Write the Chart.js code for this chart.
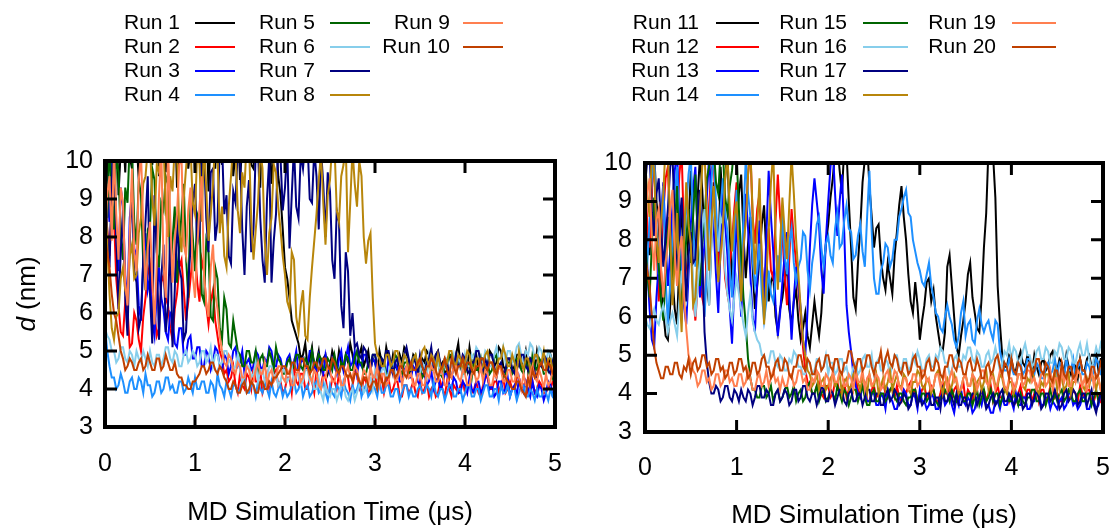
<!DOCTYPE html>
<html>
<head>
<meta charset="utf-8">
<script src="https://cdn.jsdelivr.net/npm/chart.js@4.4.1/dist/chart.umd.min.js"></script>
<style>
  body { margin: 0; background: #fff; }
  .panel { position: absolute; top: 0; height: 532px; }
</style>
</head>
<body>
<div class="panel" style="left:0;width:580px"><canvas id="leftChart" width="580" height="532"></canvas></div>
<div class="panel" style="left:558px;width:558px"><canvas id="rightChart" width="558" height="532"></canvas></div>
<script>
// time axis (microseconds), one sample every 0.025 us
const timeUs = [
  0, 0.025, 0.05, 0.075, 0.1, 0.125, 0.15, 0.175, 0.2, 0.225, 0.25, 0.275, 0.3, 0.325, 0.35, 0.375, 0.4, 0.425, 0.45, 0.475,
  0.5, 0.525, 0.55, 0.575, 0.6, 0.625, 0.65, 0.675, 0.7, 0.725, 0.75, 0.775, 0.8, 0.825, 0.85, 0.875, 0.9, 0.925, 0.95, 0.975,
  1, 1.025, 1.05, 1.075, 1.1, 1.125, 1.15, 1.175, 1.2, 1.225, 1.25, 1.275, 1.3, 1.325, 1.35, 1.375, 1.4, 1.425, 1.45, 1.475,
  1.5, 1.525, 1.55, 1.575, 1.6, 1.625, 1.65, 1.675, 1.7, 1.725, 1.75, 1.775, 1.8, 1.825, 1.85, 1.875, 1.9, 1.925, 1.95, 1.975,
  2, 2.025, 2.05, 2.075, 2.1, 2.125, 2.15, 2.175, 2.2, 2.225, 2.25, 2.275, 2.3, 2.325, 2.35, 2.375, 2.4, 2.425, 2.45, 2.475,
  2.5, 2.525, 2.55, 2.575, 2.6, 2.625, 2.65, 2.675, 2.7, 2.725, 2.75, 2.775, 2.8, 2.825, 2.85, 2.875, 2.9, 2.925, 2.95, 2.975,
  3, 3.025, 3.05, 3.075, 3.1, 3.125, 3.15, 3.175, 3.2, 3.225, 3.25, 3.275, 3.3, 3.325, 3.35, 3.375, 3.4, 3.425, 3.45, 3.475,
  3.5, 3.525, 3.55, 3.575, 3.6, 3.625, 3.65, 3.675, 3.7, 3.725, 3.75, 3.775, 3.8, 3.825, 3.85, 3.875, 3.9, 3.925, 3.95, 3.975,
  4, 4.025, 4.05, 4.075, 4.1, 4.125, 4.15, 4.175, 4.2, 4.225, 4.25, 4.275, 4.3, 4.325, 4.35, 4.375, 4.4, 4.425, 4.45, 4.475,
  4.5, 4.525, 4.55, 4.575, 4.6, 4.625, 4.65, 4.675, 4.7, 4.725, 4.75, 4.775, 4.8, 4.825, 4.85, 4.875, 4.9, 4.925, 4.95, 4.975,
  5
];

// distance d (nm), left panel, one row per 0.5 us
const run1 = [
  10.2, 9.4, 11.3, 10.0, 10.5, 11.6, 9.1, 10.3, 10.8, 9.7, 11.4, 10.1, 9.8, 11.5, 10.6, 9.5, 11.2, 10.7, 10.1, 11.4,
  11.5, 9.9, 10.4, 11.2, 9.6, 10.5, 10.9, 9.7, 11.3, 10.6, 10.0, 11.5, 9.3, 10.2, 10.7, 11.6, 11.4, 9.8, 10.3, 11.1,
  9.7, 10.9, 11.1, 9.6, 10.4, 11.5, 9.2, 10.7, 10.6, 9.8, 11.3, 10.4, 9.9, 11.6, 10.8, 10.0, 11.5, 9.6, 10.2, 11.3,
  9.5, 10.4, 10.9, 11.6, 11.2, 9.9, 9.8, 10.9, 10.5, 9.3, 11.4, 10.6, 10.0, 11.2, 9.4, 10.1, 10.7, 9.6, 9.1, 8.2,
  7.2, 6.9, 6.4, 5.8, 5.6, 5.4, 5.2, 4.8, 4.9, 5.2, 4.6, 4.8, 5.1, 4.5, 4.7, 5.0, 4.5, 4.8, 4.9, 4.4,
  4.6, 5.0, 4.8, 4.5, 5.0, 4.7, 4.5, 4.9, 4.7, 5.2, 4.9, 4.5, 4.6, 4.9, 5.1, 4.6, 4.8, 5.0, 4.5, 4.8,
  4.7, 4.4, 5.0, 4.7, 4.6, 5.1, 4.8, 4.5, 4.9, 4.6, 4.5, 4.9, 4.7, 5.1, 5.0, 4.6, 4.6, 4.9, 4.8, 4.5,
  4.4, 4.8, 4.7, 5.0, 4.9, 4.5, 4.6, 4.9, 5.0, 4.6, 4.7, 4.4, 4.5, 4.9, 4.8, 4.6, 4.9, 5.2, 4.6, 4.8,
  4.8, 4.5, 5.1, 4.7, 4.7, 4.9, 4.5, 4.8, 4.8, 4.4, 4.6, 5.0, 4.9, 4.6, 4.7, 5.1, 5.0, 4.6, 4.5, 4.8,
  4.8, 4.5, 4.6, 4.9, 4.9, 4.6, 4.7, 5.0, 4.5, 4.8, 4.8, 4.5, 5.0, 4.7, 4.6, 4.9, 4.7, 4.5, 4.9, 4.7,
  4.6
];
const run2 = [
  9.0, 8.2, 7.5, 8.8, 8.5, 6.9, 6.2, 5.5, 5.4, 6.3, 6.1, 5.1, 5.2, 6.0, 5.8, 5.3, 5.0, 5.9, 6.4, 7.0,
  7.3, 6.5, 6.0, 5.4, 5.6, 6.8, 7.0, 6.4, 6.2, 5.6, 5.3, 6.1, 6.5, 7.2, 7.4, 6.6, 5.8, 6.3, 6.9, 7.5,
  7.6, 6.8, 6.3, 7.4, 7.1, 6.2, 5.7, 6.3, 6.6, 5.8, 5.4, 5.0, 4.8, 4.4, 4.5, 4.2, 4.3, 4.6, 4.1, 3.9,
  4.4, 4.1, 4.0, 4.4, 4.3, 4.0, 4.6, 4.2, 4.2, 4.5, 3.9, 4.1, 4.4, 4.0, 4.1, 4.4, 4.5, 4.1, 4.2, 3.9,
  4.0, 4.3, 4.3, 3.9, 4.6, 4.2, 4.1, 4.4, 4.4, 4.0, 4.0, 4.3, 4.2, 3.9, 4.5, 4.1, 4.1, 4.4, 4.3, 3.9,
  3.9, 4.3, 4.2, 4.0, 4.4, 4.1, 4.0, 4.4, 4.3, 3.9, 4.1, 4.4, 4.5, 4.0, 3.9, 4.3, 4.2, 3.9, 4.0, 4.3,
  4.4, 4.0, 4.1, 4.3, 3.9, 4.2, 4.3, 3.9, 4.0, 4.2, 4.2, 3.8, 3.8, 4.1, 4.1, 3.9, 4.0, 4.2, 3.9, 3.8,
  4.2, 3.9, 4.0, 4.2, 3.8, 4.0, 4.1, 3.8, 3.9, 4.2, 4.0, 3.8, 4.2, 4.0, 3.8, 4.1, 4.0, 3.9, 4.1, 4.2,
  3.9, 4.1, 4.2, 3.9, 4.0, 4.2, 3.9, 3.8, 4.1, 4.3, 4.3, 4.0, 4.0, 4.2, 4.2, 3.9, 4.1, 4.3, 3.9, 4.0,
  4.2, 4.0, 4.0, 4.3, 4.3, 4.0, 4.1, 4.2, 3.9, 4.1, 4.2, 3.9, 4.0, 4.2, 4.1, 3.9, 3.9, 4.1, 4.0, 4.2,
  4.2
];
const run3 = [
  10.2, 9.1, 8.4, 10.5, 9.6, 8.0, 7.1, 9.3, 8.8, 7.0, 6.3, 8.5, 9.2, 7.7, 7.5, 6.2, 5.8, 7.4, 8.1, 6.6,
  6.9, 5.8, 5.4, 6.5, 7.2, 6.4, 6.1, 5.5, 5.3, 6.0, 5.9, 5.2, 5.1, 5.6, 5.6, 4.9, 4.9, 5.3, 5.4, 4.8,
  4.8, 5.1, 5.1, 4.6, 4.6, 5.0, 4.9, 4.5, 4.7, 5.1, 5.0, 4.6, 4.5, 4.9, 4.8, 4.4, 4.6, 5.0, 5.1, 4.6,
  4.7, 5.0, 4.4, 4.7, 4.8, 4.5, 4.6, 5.0, 4.9, 4.6, 4.5, 4.8, 4.7, 5.1, 5.0, 4.6, 4.6, 4.9, 4.8, 4.5,
  4.5, 4.8, 4.9, 4.6, 4.7, 5.0, 4.4, 4.7, 4.8, 4.5, 4.6, 5.0, 5.0, 4.6, 4.5, 4.9, 4.7, 4.4, 4.9, 4.6,
  4.4, 4.8, 4.6, 4.4, 4.8, 5.0, 4.5, 4.8, 5.1, 4.6, 4.7, 5.0, 4.4, 4.7, 4.6, 4.9, 4.9, 4.6, 4.5, 4.8,
  4.7, 4.4, 4.3, 4.6, 4.6, 4.3, 4.8, 4.5, 4.4, 4.7, 4.5, 4.2, 4.2, 4.5, 4.6, 4.3, 4.3, 4.6, 4.5, 4.2,
  4.1, 4.4, 4.4, 4.1, 4.2, 4.5, 4.0, 4.2, 4.3, 4.0, 4.1, 4.4, 4.4, 4.1, 4.0, 4.3, 4.2, 3.9, 3.9, 4.2,
  4.1, 3.9, 4.3, 4.0, 3.9, 4.2, 4.2, 3.9, 4.0, 4.3, 4.4, 4.0, 4.1, 3.8, 3.9, 4.2, 4.2, 3.9, 4.0, 4.3,
  3.8, 4.0, 4.1, 3.8, 4.3, 4.0, 3.9, 4.2, 4.0, 3.8, 4.2, 3.9, 3.8, 4.1, 4.0, 3.7, 3.9, 4.2, 4.1, 3.8,
  3.8
];
const run4 = [
  5.6, 5.0, 4.6, 4.3, 4.3, 4.0, 4.1, 4.4, 4.2, 3.9, 3.9, 4.2, 4.3, 4.0, 4.0, 4.3, 4.2, 3.9, 4.4, 4.1,
  4.1, 3.8, 3.9, 4.2, 4.2, 3.9, 4.0, 4.3, 4.3, 4.0, 4.1, 3.9, 3.9, 4.2, 4.2, 3.9, 4.0, 4.3, 4.1, 3.9,
  4.3, 4.0, 4.0, 4.2, 4.2, 3.9, 3.9, 4.2, 4.1, 3.8, 4.4, 4.1, 4.0, 3.8, 4.2, 4.0, 3.8, 4.1, 4.1, 3.9,
  4.0, 4.2, 4.3, 3.9, 3.9, 4.1, 4.1, 3.8, 4.2, 4.0, 3.9, 4.2, 4.0, 3.8, 4.2, 3.9, 3.8, 4.0, 4.1, 3.8,
  4.0, 3.8, 3.9, 4.1, 4.2, 3.9, 4.0, 4.2, 3.8, 4.0, 4.1, 3.8, 3.9, 4.1, 4.2, 3.9, 4.0, 4.2, 3.9, 3.7,
  4.1, 3.9, 3.8, 4.1, 4.0, 3.8, 4.2, 4.0, 3.9, 3.7, 4.1, 3.9, 4.0, 4.2, 3.8, 4.0, 4.1, 3.8, 3.9, 4.1,
  4.0, 3.8, 4.2, 3.9, 3.9, 4.1, 4.1, 3.8, 3.8, 4.0, 4.0, 3.7, 3.9, 4.1, 4.1, 3.8, 4.0, 3.8, 3.8, 4.0,
  4.1, 3.9, 3.9, 4.1, 4.0, 3.8, 4.2, 3.9, 3.8, 4.0, 4.0, 3.7, 3.9, 4.1, 4.1, 3.8, 3.8, 4.0, 4.0, 3.7,
  3.9, 4.1, 4.1, 3.8, 3.8, 4.0, 4.0, 3.7, 3.9, 4.1, 4.1, 3.8, 3.8, 4.0, 4.0, 3.7, 4.1, 3.9, 3.9, 4.1,
  3.8, 4.0, 4.0, 3.7, 3.9, 4.1, 4.1, 3.8, 3.8, 4.0, 3.9, 3.7, 4.0, 3.8, 3.8, 4.0, 3.9, 3.7, 4.0, 3.8,
  3.7
];
const run5 = [
  9.6, 8.5, 10.4, 9.2, 8.2, 10.1, 9.7, 8.0, 7.4, 9.3, 8.9, 10.5, 10.3, 8.4, 7.8, 9.5, 9.1, 7.3, 6.6, 8.2,
  8.3, 9.8, 9.5, 7.6, 7.2, 8.9, 8.7, 9.6, 9.4, 7.1, 7.9, 8.8, 6.8, 7.7, 8.6, 9.4, 7.5, 6.4, 8.9, 8.0,
  7.1, 8.6, 8.4, 6.5, 6.3, 7.9, 7.6, 5.9, 5.8, 7.2, 6.9, 5.6, 5.3, 6.4, 6.1, 5.2, 5.1, 5.8, 5.4, 5.0,
  4.9, 4.6, 4.6, 5.0, 5.0, 4.7, 4.7, 5.0, 4.5, 4.8, 4.9, 4.6, 4.6, 5.0, 4.8, 4.5, 5.1, 4.8, 4.7, 4.4,
  4.4, 4.7, 4.8, 4.5, 4.6, 4.9, 4.9, 4.6, 4.5, 4.8, 4.7, 4.4, 5.0, 4.7, 4.6, 4.9, 4.8, 4.5, 4.5, 4.8,
  4.7, 4.5, 4.9, 4.6, 4.4, 4.7, 4.6, 4.9, 4.8, 4.5, 4.5, 4.8, 5.0, 4.7, 4.7, 4.4, 4.4, 4.7, 4.6, 4.9,
  4.9, 4.6, 4.5, 4.8, 4.7, 4.4, 4.3, 4.6, 4.6, 4.9, 4.8, 4.5, 4.4, 4.7, 4.7, 4.4, 4.5, 4.8, 4.9, 4.6,
  4.6, 4.3, 4.4, 4.7, 4.8, 4.5, 4.5, 4.8, 4.7, 4.4, 4.3, 4.6, 4.6, 4.9, 4.9, 4.6, 4.5, 4.8, 4.7, 4.4,
  4.4, 4.7, 4.6, 4.3, 4.8, 4.5, 4.5, 4.8, 4.3, 4.6, 4.7, 4.4, 4.5, 4.8, 4.9, 4.6, 4.6, 4.3, 4.4, 4.7,
  4.7, 4.4, 4.5, 4.8, 4.8, 4.5, 4.4, 4.7, 4.6, 4.3, 4.9, 4.6, 4.5, 4.8, 4.7, 4.4, 4.4, 4.7, 4.6, 4.3,
  4.5
];
const run6 = [
  5.6, 5.4, 5.3, 5.0, 5.0, 4.7, 4.8, 5.1, 5.1, 4.8, 4.7, 5.0, 4.9, 4.6, 5.0, 4.8, 4.7, 5.0, 4.8, 4.6,
  5.0, 4.7, 4.6, 4.9, 4.9, 4.6, 4.8, 5.1, 5.1, 4.8, 4.7, 5.0, 4.9, 4.6, 4.6, 4.9, 5.0, 4.7, 4.8, 5.0,
  4.9, 4.6, 4.7, 5.0, 5.0, 4.7, 4.8, 5.1, 4.6, 4.9, 4.9, 4.6, 4.7, 5.0, 5.0, 4.7, 4.8, 4.5, 4.6, 4.9,
  4.5, 4.2, 4.3, 4.6, 4.6, 4.3, 4.4, 4.7, 4.2, 4.5, 4.5, 4.2, 4.3, 4.6, 4.6, 4.3, 4.4, 4.1, 4.2, 4.5,
  4.5, 4.2, 4.3, 4.6, 4.1, 4.4, 4.4, 4.1, 4.2, 4.5, 4.5, 4.2, 4.3, 4.0, 4.0, 4.3, 3.9, 3.7, 4.1, 3.9,
  3.8, 4.0, 4.0, 3.7, 3.9, 4.1, 4.1, 3.8, 3.7, 3.9, 4.0, 3.7, 3.9, 4.1, 4.2, 3.9, 4.0, 4.3, 4.3, 4.0,
  4.5, 4.3, 4.2, 4.5, 4.6, 4.3, 4.4, 4.7, 4.7, 4.4, 4.3, 4.6, 4.6, 4.9, 4.8, 4.5, 4.5, 4.8, 4.7, 4.4,
  4.4, 4.7, 4.6, 4.3, 4.9, 4.6, 4.5, 4.8, 4.7, 4.4, 4.4, 4.7, 4.8, 4.5, 4.6, 4.9, 4.5, 4.8, 4.7, 4.4,
  4.9, 4.6, 4.6, 4.9, 4.8, 5.1, 5.0, 4.7, 4.7, 5.0, 4.9, 4.6, 4.6, 4.9, 5.1, 4.8, 4.8, 5.1, 4.7, 5.0,
  5.0, 4.7, 4.8, 5.1, 5.2, 4.9, 4.7, 5.0, 4.9, 5.2, 5.1, 4.8, 4.8, 5.1, 5.0, 4.7, 4.7, 5.0, 4.9, 4.6,
  4.8
];
const run7 = [
  9.8, 8.1, 7.2, 9.5, 10.4, 8.0, 6.1, 7.6, 8.7, 6.4, 5.4, 7.9, 9.3, 7.1, 6.8, 5.6, 5.9, 7.4, 8.4, 9.6,
  6.5, 5.2, 9.1, 7.6, 5.3, 6.9, 7.8, 5.5, 6.2, 8.0, 5.1, 6.6, 8.6, 7.2, 6.9, 5.3, 5.5, 6.8, 7.7, 8.9,
  9.4, 7.8, 8.1, 10.2, 10.3, 8.5, 7.6, 9.7, 9.8, 7.9, 8.4, 10.4, 10.5, 8.6, 9.1, 7.5, 7.3, 9.2, 8.9, 10.3,
  10.2, 8.2, 7.0, 8.8, 9.5, 7.6, 8.2, 10.3, 10.4, 8.5, 7.4, 6.8, 9.0, 10.1, 6.8, 7.9, 8.6, 10.5, 10.1, 8.7,
  9.3, 10.4, 7.7, 9.1, 10.4, 8.8, 8.5, 10.2, 9.8, 10.5, 10.5, 9.0, 8.9, 10.3, 9.6, 8.2, 10.3, 9.4, 8.0, 9.7,
  9.2, 7.4, 6.9, 8.7, 8.4, 6.2, 5.6, 7.6, 7.1, 5.4, 6.0, 5.1, 5.2, 4.9, 4.8, 5.1, 5.0, 4.6, 4.6, 4.9,
  4.9, 4.6, 4.5, 4.8, 4.7, 5.0, 5.0, 4.7, 4.4, 4.7, 4.8, 4.5, 4.6, 4.9, 5.1, 4.8, 4.5, 4.8, 4.7, 4.4,
  4.9, 4.6, 4.4, 4.7, 4.8, 5.1, 4.6, 4.9, 5.0, 4.7, 4.5, 4.8, 4.7, 4.4, 4.3, 4.6, 4.9, 4.6, 4.6, 4.9,
  4.8, 4.5, 4.4, 4.7, 4.7, 5.0, 5.0, 4.7, 4.5, 4.8, 4.6, 4.9, 4.9, 4.6, 4.3, 4.6, 4.7, 4.4, 4.5, 4.8,
  4.8, 4.5, 4.4, 4.7, 4.6, 4.9, 4.9, 4.6, 4.5, 4.8, 4.7, 4.4, 4.3, 4.6, 4.6, 4.9, 4.8, 4.5, 4.4, 4.7,
  4.5
];
const run8 = [
  9.5, 7.8, 6.5, 5.6, 5.3, 5.9, 6.0, 6.9, 7.2, 6.6, 6.4, 7.5, 7.8, 6.9, 7.0, 8.1, 8.5, 9.4, 9.6, 10.3,
  10.4, 9.0, 8.3, 9.9, 9.7, 10.6, 10.5, 8.7, 8.0, 9.6, 9.2, 10.4, 10.3, 8.2, 7.6, 9.0, 9.8, 10.5, 10.4, 8.9,
  8.6, 10.3, 9.9, 8.4, 10.5, 9.3, 7.9, 8.6, 9.4, 10.6, 10.2, 8.1, 8.8, 7.5, 7.2, 8.8, 9.6, 10.5, 10.4, 8.7,
  8.1, 9.7, 9.3, 10.6, 10.5, 8.4, 7.4, 8.2, 8.9, 10.3, 9.8, 7.9, 7.0, 8.1, 8.5, 9.9, 9.7, 8.8, 8.2, 7.5,
  7.0, 6.3, 6.1, 7.6, 7.4, 5.9, 5.5, 6.2, 6.6, 5.4, 5.3, 6.4, 7.2, 7.9, 8.6, 9.5, 10.2, 8.9, 7.8, 9.1,
  9.5, 10.5, 10.4, 8.7, 8.4, 9.6, 9.9, 10.5, 7.6, 8.9, 10.3, 9.4, 8.8, 10.0, 9.6, 8.0, 7.3, 7.9, 8.1, 6.4,
  5.2, 4.9, 4.8, 4.6, 4.6, 4.9, 4.9, 4.6, 4.7, 5.0, 5.0, 4.7, 4.6, 4.9, 4.8, 4.5, 4.5, 4.8, 4.9, 4.6,
  4.7, 5.0, 5.1, 4.8, 4.6, 4.9, 4.8, 4.5, 4.9, 4.6, 4.5, 4.8, 4.7, 5.0, 5.0, 4.7, 4.6, 4.9, 4.8, 4.5,
  4.7, 5.0, 4.9, 4.6, 4.5, 4.8, 4.8, 4.5, 4.6, 4.9, 5.0, 4.7, 4.7, 4.4, 4.5, 4.8, 4.8, 5.1, 4.9, 4.6,
  4.6, 4.9, 4.7, 4.4, 5.0, 4.7, 4.5, 4.8, 4.8, 4.5, 4.6, 4.9, 4.9, 4.6, 4.7, 5.0, 4.5, 4.8, 4.8, 4.5,
  4.6
];
const run9 = [
  8.0, 9.1, 9.6, 7.9, 10.3, 8.6, 7.4, 9.3, 8.9, 6.8, 6.2, 8.1, 9.8, 7.6, 7.1, 9.5, 10.2, 8.3, 6.6, 7.7,
  8.4, 6.9, 5.7, 7.3, 9.1, 10.4, 7.3, 6.4, 10.4, 8.5, 6.8, 7.9, 8.6, 9.9, 10.1, 7.8, 7.5, 8.7, 9.3, 7.0,
  6.4, 7.7, 8.8, 9.6, 7.0, 6.3, 5.9, 7.2, 7.8, 6.5, 6.1, 5.4, 5.0, 4.7, 4.6, 4.9, 4.8, 4.5, 4.4, 4.7,
  4.6, 4.3, 4.3, 4.6, 4.5, 4.2, 4.2, 4.5, 4.7, 4.4, 4.4, 4.7, 4.1, 4.4, 4.5, 4.2, 4.3, 4.6, 4.6, 4.3,
  4.2, 4.5, 4.4, 4.1, 4.1, 4.4, 4.5, 4.2, 4.3, 4.6, 4.6, 4.3, 4.2, 4.5, 4.4, 4.1, 4.0, 4.3, 4.3, 4.6,
  4.5, 4.2, 4.2, 4.5, 4.4, 4.1, 4.1, 4.4, 4.6, 4.3, 4.3, 4.6, 4.5, 4.2, 4.2, 4.5, 4.4, 4.1, 4.6, 4.3,
  4.3, 4.6, 4.1, 4.4, 4.4, 4.1, 4.2, 4.5, 4.5, 4.2, 4.3, 4.6, 4.1, 4.4, 4.6, 4.3, 4.4, 4.1, 4.1, 4.4,
  4.4, 4.1, 4.1, 4.4, 4.3, 4.6, 4.5, 4.2, 4.2, 4.5, 4.4, 4.1, 4.1, 4.4, 4.3, 4.6, 4.6, 4.3, 4.2, 4.5,
  4.4, 4.1, 4.1, 4.4, 4.5, 4.2, 4.3, 4.6, 4.2, 4.5, 4.4, 4.1, 4.1, 4.4, 4.3, 4.6, 4.5, 4.2, 4.2, 4.5,
  4.5, 4.2, 4.2, 4.5, 4.3, 4.0, 4.4, 4.1, 4.1, 4.4, 4.6, 4.3, 4.2, 4.5, 4.3, 4.0, 4.4, 4.1, 4.2, 4.5,
  4.3
];
const run10 = [
  8.0, 7.6, 7.2, 6.5, 6.0, 5.8, 5.4, 5.0, 4.8, 4.5, 4.6, 4.8, 4.7, 4.5, 4.5, 4.7, 4.8, 4.5, 4.6, 4.9,
  4.7, 4.5, 4.5, 4.8, 4.8, 4.5, 4.6, 4.9, 4.7, 4.5, 4.5, 4.7, 4.4, 4.3, 4.3, 4.1, 4.1, 4.0, 4.0, 4.2,
  4.2, 4.3, 4.4, 4.6, 4.6, 4.4, 4.5, 4.7, 4.7, 4.5, 4.4, 4.6, 4.5, 4.3, 4.2, 4.0, 4.0, 4.2, 4.1, 3.9,
  3.9, 4.1, 4.2, 3.9, 4.0, 4.2, 4.1, 3.9, 3.9, 4.2, 4.2, 4.0, 4.0, 4.2, 4.1, 4.3, 4.3, 4.4, 4.5, 4.6,
  4.6, 4.4, 4.4, 4.7, 4.7, 4.5, 4.5, 4.8, 4.8, 4.6, 4.6, 4.4, 4.5, 4.7, 4.7, 4.5, 4.6, 4.8, 4.8, 4.6,
  4.5, 4.8, 4.7, 4.5, 4.4, 4.6, 4.6, 4.4, 4.3, 4.4, 4.2, 4.4, 4.4, 4.2, 4.1, 4.3, 4.3, 4.1, 4.0, 4.2,
  4.2, 4.0, 4.4, 4.2, 4.1, 4.3, 4.3, 4.5, 4.5, 4.3, 4.4, 4.6, 4.6, 4.4, 4.3, 4.5, 4.7, 4.5, 4.5, 4.7,
  4.8, 4.6, 4.4, 4.6, 4.6, 4.8, 4.7, 4.5, 4.3, 4.5, 4.6, 4.8, 4.5, 4.3, 4.8, 4.6, 4.4, 4.6, 4.6, 4.8,
  4.5, 4.7, 4.7, 4.5, 4.4, 4.6, 4.6, 4.8, 4.8, 4.6, 4.5, 4.7, 4.7, 4.5, 4.4, 4.6, 4.6, 4.4, 4.3, 4.2,
  4.1, 4.0, 4.0, 4.2, 4.2, 4.0, 3.9, 3.8, 4.3, 4.1, 4.5, 4.3, 4.4, 4.6, 4.7, 4.5, 4.5, 4.7, 4.6, 4.4,
  4.4
];

// distance d (nm), right panel, one row per 0.5 us
const run11 = [
  9.2, 8.1, 7.6, 9.4, 10.3, 9.0, 8.4, 7.2, 6.1, 5.5, 5.4, 6.3, 7.0, 6.2, 5.8, 7.4, 8.9, 7.8, 6.6, 8.3,
  9.8, 8.5, 7.4, 9.1, 10.2, 9.3, 8.1, 6.9, 6.3, 8.0, 9.5, 8.4, 7.2, 9.9, 8.8, 9.6, 10.4, 8.2, 6.9, 7.8,
  8.3, 9.2, 9.7, 8.1, 7.0, 7.9, 8.6, 7.3, 6.2, 6.8, 7.5, 8.4, 8.9, 7.6, 6.4, 6.9, 7.1, 6.0, 5.6, 6.2,
  6.5, 7.0, 7.3, 6.2, 5.8, 6.4, 6.7, 5.9, 5.4, 5.7, 6.1, 5.5, 5.2, 5.8, 6.4, 5.9, 5.5, 6.1, 7.2, 7.9,
  8.4, 9.1, 9.6, 10.3, 10.5, 9.8, 9.2, 10.4, 10.3, 9.0, 7.8, 6.5, 6.2, 7.4, 8.3, 9.5, 10.1, 10.5, 9.4, 8.6,
  7.8, 8.3, 8.4, 7.5, 7.0, 6.7, 7.4, 7.0, 6.6, 7.6, 8.2, 8.9, 9.4, 8.6, 8.0, 7.1, 6.4, 6.1, 6.9, 6.3,
  5.4, 5.9, 6.3, 6.9, 7.0, 6.4, 6.7, 6.0, 5.6, 5.2, 5.1, 5.6, 7.3, 7.6, 6.8, 6.0, 5.2, 5.0, 5.5, 5.9,
  6.4, 7.1, 7.4, 6.5, 6.1, 5.7, 5.6, 6.5, 7.8, 8.7, 10.4, 10.6, 10.2, 9.1, 6.8, 5.8, 5.0, 4.7, 4.7, 5.0,
  4.9, 4.6, 4.6, 4.9, 5.1, 4.8, 4.7, 5.0, 4.8, 4.5, 5.0, 4.7, 4.5, 4.8, 4.9, 4.6, 4.7, 5.0, 5.1, 4.8,
  4.6, 4.9, 4.8, 4.5, 5.0, 4.7, 4.5, 4.8, 4.7, 4.4, 4.9, 4.6, 4.6, 4.9, 5.0, 4.7, 4.8, 5.1, 4.6, 4.9,
  4.9
];
const run12 = [
  9.6, 8.4, 7.8, 9.3, 10.2, 8.0, 6.4, 7.5, 8.7, 9.6, 9.9, 8.1, 7.1, 8.0, 8.5, 9.7, 10.3, 8.2, 6.8, 7.4,
  8.0, 6.6, 5.9, 6.8, 7.4, 6.5, 6.2, 7.7, 8.9, 9.8, 10.1, 8.4, 7.3, 7.9, 8.2, 7.0, 6.6, 7.4, 7.9, 8.8,
  9.5, 8.3, 7.2, 8.1, 8.6, 9.7, 10.4, 8.6, 7.9, 8.8, 9.2, 7.4, 6.5, 7.6, 8.3, 7.2, 7.0, 8.5, 9.7, 8.6,
  8.1, 7.1, 6.3, 7.5, 8.8, 8.0, 7.4, 6.7, 6.0, 5.2, 4.6, 4.3, 4.2, 4.0, 4.0, 4.2, 4.3, 4.0, 3.9, 4.2,
  4.2, 3.9, 4.0, 4.3, 4.3, 4.0, 4.1, 4.3, 3.9, 4.1, 4.2, 4.4, 4.4, 4.1, 4.0, 4.2, 4.1, 3.8, 3.8, 4.1,
  4.2, 3.9, 4.0, 4.2, 4.3, 4.0, 3.9, 4.1, 4.1, 3.9, 4.2, 3.9, 3.8, 4.1, 4.0, 4.2, 4.3, 4.0, 4.1, 3.8,
  3.9, 4.1, 4.2, 3.9, 4.0, 4.2, 4.1, 3.8, 3.8, 4.0, 4.3, 4.0, 4.0, 4.2, 3.9, 4.1, 4.2, 3.9, 4.1, 4.3,
  3.8, 4.1, 4.0, 3.8, 4.2, 4.0, 3.9, 4.1, 4.1, 3.8, 4.0, 4.2, 3.8, 4.0, 4.2, 3.9, 3.9, 4.1, 4.1, 3.8,
  4.0, 4.2, 3.8, 4.0, 4.2, 3.9, 3.9, 4.1, 4.1, 3.8, 4.0, 4.2, 3.8, 4.1, 4.1, 3.8, 3.9, 4.2, 4.2, 3.9,
  4.0, 3.8, 3.8, 4.1, 4.1, 3.9, 3.9, 4.1, 4.0, 3.8, 4.2, 4.0, 3.9, 4.1, 4.1, 3.8, 3.8, 4.0, 4.0, 3.8,
  3.9
];
const run13 = [
  8.6, 7.3, 6.2, 5.4, 5.2, 6.5, 7.4, 8.6, 9.5, 7.9, 6.8, 7.7, 8.9, 9.8, 10.3, 8.5, 7.2, 6.3, 5.8, 7.1,
  8.4, 9.3, 9.9, 8.0, 6.5, 7.2, 7.9, 9.1, 10.2, 9.0, 8.3, 7.1, 6.1, 7.8, 9.4, 8.4, 7.6, 6.2, 5.3, 6.8,
  8.7, 7.2, 6.0, 7.5, 9.2, 8.3, 7.1, 6.0, 5.6, 6.9, 8.5, 7.4, 6.4, 8.1, 9.8, 8.6, 7.7, 6.3, 5.5, 6.1,
  6.9, 7.6, 8.2, 6.6, 5.4, 6.5, 7.3, 6.8, 6.2, 5.4, 5.0, 6.2, 7.8, 8.9, 9.6, 9.0, 8.4, 7.2, 6.6, 8.0,
  9.0, 9.9, 10.4, 9.2, 8.1, 9.0, 9.7, 8.2, 6.3, 5.6, 5.1, 4.5, 4.2, 4.0, 3.9, 4.2, 4.1, 3.8, 3.8, 4.0,
  4.0, 3.7, 3.7, 4.0, 3.9, 3.6, 4.1, 3.9, 3.8, 3.6, 3.6, 3.9, 3.9, 4.1, 4.0, 3.7, 3.7, 4.0, 3.9, 3.6,
  4.1, 3.8, 3.8, 3.6, 3.7, 4.0, 3.9, 3.6, 3.6, 3.9, 4.0, 3.7, 3.8, 4.0, 3.7, 3.5, 3.9, 3.7, 4.1, 3.8,
  3.7, 3.9, 3.8, 3.5, 3.6, 3.9, 3.9, 3.7, 4.0, 3.7, 3.7, 3.5, 3.5, 3.8, 3.8, 3.6, 3.9, 3.7, 3.7, 3.9,
  3.8, 3.6, 4.0, 3.7, 3.7, 3.9, 3.9, 3.6, 3.6, 3.8, 3.8, 4.1, 4.0, 3.7, 3.7, 3.9, 3.9, 3.6, 3.8, 3.7,
  3.6, 3.8, 3.9, 3.6, 3.7, 4.0, 4.0, 3.7, 3.8, 3.6, 3.7, 3.9, 3.9, 3.6, 3.6, 3.8, 3.8, 3.6, 3.7, 4.0,
  3.9
];
const run14 = [
  6.2, 7.4, 8.5, 9.6, 10.3, 8.4, 7.1, 8.2, 9.4, 7.0, 5.8, 6.9, 8.0, 9.1, 9.9, 8.1, 6.7, 7.8, 8.8, 9.7,
  10.2, 8.4, 7.3, 8.1, 9.1, 7.6, 6.0, 7.2, 8.4, 9.5, 10.4, 8.9, 7.7, 8.8, 9.6, 8.7, 8.2, 7.2, 6.5, 8.1,
  9.3, 8.0, 7.0, 8.6, 10.1, 9.2, 8.6, 7.5, 6.8, 7.2, 7.9, 6.6, 5.9, 6.4, 7.2, 6.6, 6.4, 7.0, 7.6, 6.9,
  8.8, 7.6, 7.1, 7.9, 8.3, 7.4, 6.9, 7.3, 7.5, 8.2, 8.1, 7.2, 6.7, 7.4, 7.8, 8.4, 8.6, 7.8, 7.3, 7.9,
  8.1, 7.6, 7.4, 8.3, 8.7, 7.8, 7.9, 8.5, 8.9, 8.3, 8.2, 7.5, 7.6, 8.1, 8.4, 7.7, 7.3, 8.6, 9.8, 8.2,
  7.0, 6.6, 6.6, 7.2, 7.4, 7.9, 7.8, 7.3, 7.5, 8.0, 8.0, 8.6, 8.8, 9.1, 9.3, 8.7, 8.6, 8.0, 7.7, 7.4,
  7.2, 6.9, 6.8, 7.1, 7.4, 6.8, 6.5, 6.1, 6.0, 5.7, 5.6, 6.0, 6.3, 6.0, 5.8, 5.4, 5.2, 5.5, 6.1, 6.4,
  5.5, 5.8, 5.9, 5.4, 5.3, 5.9, 6.2, 5.8, 5.6, 5.8, 5.9, 5.6, 5.4, 5.9, 5.8, 5.1, 4.8, 4.6, 4.6, 4.9,
  4.7, 4.5, 4.5, 4.8, 4.8, 4.5, 4.6, 4.9, 4.9, 4.6, 4.5, 4.8, 4.7, 4.4, 4.4, 4.7, 4.8, 4.5, 4.6, 4.9,
  4.5, 4.8, 4.7, 4.4, 4.9, 4.6, 4.6, 4.9, 4.4, 4.7, 4.8, 4.5, 4.5, 4.8, 4.7, 4.4, 4.6, 4.9, 4.8, 4.5,
  4.5
];
const run15 = [
  8.2, 7.1, 6.5, 7.9, 9.1, 8.0, 7.3, 6.4, 5.9, 7.2, 8.6, 7.7, 7.0, 8.3, 9.4, 7.6, 6.2, 7.1, 8.0, 8.8,
  7.4, 8.6, 9.7, 8.1, 6.8, 7.9, 8.5, 9.6, 9.9, 10.4, 10.4, 9.5, 9.2, 10.3, 10.3, 9.1, 8.7, 9.4, 9.8, 10.5,
  10.2, 8.8, 7.6, 6.5, 5.8, 4.9, 4.4, 4.1, 4.1, 3.9, 3.9, 4.2, 4.2, 3.9, 4.0, 4.2, 3.8, 4.0, 4.1, 3.8,
  3.9, 4.1, 4.2, 3.9, 4.0, 4.2, 3.8, 4.0, 4.1, 3.8, 3.9, 4.2, 4.3, 4.0, 4.0, 4.2, 3.8, 4.0, 4.1, 3.8,
  3.9, 4.1, 4.0, 3.8, 4.2, 4.0, 3.8, 4.1, 4.0, 3.7, 3.9, 4.1, 4.1, 3.8, 4.0, 4.2, 3.9, 3.7, 3.7, 4.0,
  4.1, 3.8, 3.8, 4.0, 4.0, 3.8, 3.9, 4.1, 4.2, 3.9, 3.8, 4.0, 4.0, 3.8, 3.7, 3.9, 3.9, 4.1, 4.1, 3.8,
  3.8, 4.0, 4.0, 3.8, 3.9, 4.1, 4.1, 3.8, 3.7, 3.9, 3.9, 4.1, 4.0, 3.8, 4.1, 3.9, 3.8, 4.0, 4.0, 3.8,
  3.8, 4.0, 4.0, 3.7, 3.9, 4.1, 3.7, 3.9, 4.1, 3.8, 3.9, 4.1, 3.8, 4.0, 4.0, 3.7, 3.9, 4.1, 4.1, 3.8,
  3.8, 4.0, 3.9, 3.7, 4.0, 3.8, 3.7, 3.9, 3.9, 4.1, 4.1, 3.8, 3.8, 4.0, 4.0, 3.7, 3.9, 4.1, 3.8, 4.0,
  3.8, 4.0, 4.1, 3.8, 3.9, 4.1, 4.0, 3.8, 3.8, 4.0, 4.1, 3.8, 3.8, 4.0, 4.0, 3.7, 3.9, 4.1, 3.8, 4.0,
  4.0
];
const run16 = [
  6.0, 5.8, 5.7, 6.0, 6.2, 5.9, 5.8, 6.1, 6.3, 6.0, 5.6, 5.9, 6.1, 5.8, 5.5, 6.4, 7.2, 6.6, 6.4, 7.5,
  8.1, 7.0, 6.0, 6.8, 7.5, 8.3, 8.8, 7.4, 6.3, 7.9, 9.1, 8.2, 7.7, 8.6, 8.4, 7.2, 6.6, 6.2, 5.9, 6.5,
  7.0, 6.6, 6.2, 5.8, 5.5, 6.1, 6.6, 5.9, 5.6, 5.4, 5.3, 5.0, 5.0, 4.8, 4.8, 5.1, 5.1, 4.8, 4.7, 5.0,
  4.9, 4.6, 4.6, 4.9, 4.8, 5.1, 5.0, 4.7, 4.7, 4.5, 4.5, 4.8, 4.8, 4.5, 4.6, 4.9, 4.9, 4.6, 4.7, 5.0,
  4.5, 4.8, 4.8, 4.5, 4.6, 4.9, 4.9, 4.6, 4.7, 4.4, 4.4, 4.7, 4.8, 4.5, 4.6, 4.9, 5.0, 4.7, 4.7, 5.0,
  4.5, 4.8, 4.9, 4.6, 4.6, 4.9, 4.8, 4.5, 4.7, 5.0, 5.0, 4.7, 4.6, 4.9, 4.9, 4.6, 4.7, 5.0, 4.8, 5.1,
  4.9, 4.6, 4.6, 4.9, 5.0, 4.7, 4.7, 5.0, 4.9, 5.2, 5.1, 4.8, 4.8, 4.5, 4.6, 4.9, 5.0, 4.7, 4.7, 5.0,
  4.9, 5.2, 5.2, 4.9, 4.8, 5.1, 5.0, 4.7, 4.7, 5.0, 5.1, 4.8, 4.9, 5.2, 4.9, 4.6, 4.8, 5.1, 5.0, 5.3,
  4.9, 5.2, 5.1, 4.8, 4.8, 5.1, 5.3, 5.0, 5.0, 4.7, 4.8, 5.1, 5.2, 4.9, 4.9, 5.2, 5.1, 4.8, 4.8, 5.1,
  5.0, 5.3, 5.2, 4.9, 4.9, 5.2, 5.1, 4.8, 4.8, 5.1, 5.3, 5.0, 5.0, 5.3, 4.9, 4.6, 4.9, 5.2, 5.0, 5.3,
  5.1
];
const run17 = [
  9.4, 10.1, 10.3, 8.7, 8.1, 9.2, 9.6, 8.3, 7.3, 8.1, 8.8, 9.9, 10.2, 8.5, 7.0, 8.3, 9.1, 7.8, 6.4, 7.6,
  8.2, 7.4, 7.5, 8.6, 9.3, 7.5, 5.6, 4.8, 4.3, 4.0, 4.0, 4.2, 4.1, 3.8, 3.9, 4.2, 4.2, 3.9, 3.8, 4.1,
  4.0, 3.8, 4.1, 3.9, 3.8, 4.1, 4.0, 3.7, 3.9, 4.2, 4.2, 3.9, 3.9, 4.1, 4.0, 3.7, 3.7, 4.0, 4.1, 3.8,
  3.9, 4.1, 4.0, 3.7, 3.8, 4.1, 4.1, 3.8, 3.9, 4.2, 4.2, 3.9, 3.8, 4.0, 4.0, 3.7, 3.9, 4.2, 4.1, 3.8,
  3.8, 4.1, 4.0, 3.7, 3.9, 4.1, 4.1, 3.8, 3.7, 4.0, 4.1, 3.8, 3.8, 4.0, 4.0, 3.7, 3.9, 4.1, 4.1, 3.8,
  3.8, 4.0, 4.0, 3.7, 3.7, 4.0, 4.1, 3.8, 3.9, 4.1, 4.0, 3.7, 3.8, 4.0, 3.9, 3.6, 3.7, 4.0, 4.0, 3.7,
  3.9, 3.7, 3.8, 4.0, 4.0, 3.7, 3.7, 3.9, 3.9, 3.6, 4.1, 3.8, 3.8, 4.0, 3.9, 3.7, 4.0, 3.7, 3.7, 3.9,
  3.9, 3.6, 3.8, 4.0, 4.0, 3.7, 3.9, 4.1, 3.9, 3.6, 3.7, 3.9, 4.0, 3.7, 3.8, 4.0, 4.1, 3.8, 3.8, 4.0,
  3.9, 3.7, 3.8, 4.0, 3.9, 3.6, 3.7, 4.0, 4.0, 3.7, 3.9, 4.1, 3.9, 3.6, 3.7, 4.0, 4.0, 3.8, 3.9, 4.1,
  3.9, 3.6, 3.7, 4.0, 4.1, 3.8, 3.9, 4.1, 4.0, 3.7, 3.8, 4.0, 4.0, 3.7, 3.9, 4.1, 3.7, 3.5, 3.8, 4.0,
  3.9
];
const run18 = [
  10.1, 9.2, 8.6, 10.3, 9.8, 8.1, 7.4, 8.5, 9.2, 10.5, 10.4, 8.2, 6.3, 7.5, 8.7, 6.8, 5.6, 7.9, 9.5, 8.4,
  7.9, 6.3, 6.5, 7.7, 8.8, 9.9, 10.3, 8.6, 7.2, 8.4, 9.4, 8.0, 6.9, 7.6, 8.3, 9.6, 10.2, 8.8, 7.7, 8.6,
  9.0, 7.5, 6.4, 7.8, 8.5, 9.7, 10.4, 8.7, 7.1, 8.3, 9.6, 7.4, 5.8, 7.0, 8.2, 9.5, 10.3, 8.1, 6.7, 7.9,
  9.1, 8.2, 7.5, 8.9, 10.2, 9.2, 8.0, 7.1, 6.2, 5.4, 5.0, 4.6, 4.5, 4.2, 4.3, 4.5, 4.1, 4.3, 4.4, 4.1,
  4.2, 4.4, 4.5, 4.2, 4.3, 4.5, 4.0, 4.3, 4.4, 4.1, 4.2, 4.5, 4.6, 4.3, 4.1, 4.4, 4.3, 4.0, 4.5, 4.2,
  4.2, 4.5, 4.0, 4.2, 4.4, 4.1, 4.3, 4.6, 4.1, 4.3, 4.5, 4.2, 4.2, 4.5, 4.4, 4.1, 4.0, 4.3, 4.3, 4.6,
  4.5, 4.2, 4.1, 4.4, 4.3, 4.0, 4.2, 4.5, 4.6, 4.3, 4.0, 4.3, 4.4, 4.1, 4.2, 4.5, 4.3, 4.0, 4.1, 4.4,
  4.5, 4.2, 4.2, 4.5, 4.0, 4.3, 4.4, 4.1, 4.3, 4.6, 4.1, 4.4, 4.5, 4.2, 4.2, 4.5, 4.4, 4.1, 4.0, 4.3,
  4.3, 4.0, 4.2, 4.5, 4.5, 4.2, 4.1, 4.4, 4.3, 4.6, 4.4, 4.1, 4.0, 4.3, 4.2, 4.5, 4.5, 4.2, 4.3, 4.6,
  4.1, 4.4, 4.4, 4.1, 4.2, 4.5, 4.0, 4.3, 4.3, 4.6, 4.5, 4.2, 4.1, 4.4, 4.2, 4.5, 4.4, 4.1, 4.4, 4.1,
  4.1
];
const run19 = [
  8.4, 9.2, 9.6, 8.0, 7.2, 8.5, 8.8, 7.3, 6.5, 7.4, 7.9, 8.8, 9.3, 7.6, 6.8, 7.7, 8.1, 6.6, 5.7, 5.0,
  4.8, 4.6, 4.5, 4.2, 4.3, 4.6, 4.6, 4.3, 4.4, 4.1, 4.2, 4.5, 4.5, 4.2, 4.3, 4.6, 4.6, 4.3, 4.4, 4.2,
  4.2, 4.5, 4.5, 4.2, 4.3, 4.6, 4.4, 4.1, 4.1, 4.4, 4.5, 4.2, 4.3, 4.6, 4.2, 4.4, 4.6, 4.3, 4.4, 4.1,
  4.4, 4.2, 4.2, 4.5, 4.5, 4.2, 4.3, 4.6, 4.6, 4.3, 4.4, 4.1, 4.1, 4.4, 4.3, 4.6, 4.5, 4.2, 4.2, 4.5,
  4.4, 4.1, 4.6, 4.3, 4.3, 4.6, 4.5, 4.2, 4.2, 4.5, 4.4, 4.1, 4.6, 4.3, 4.3, 4.6, 4.1, 4.4, 4.5, 4.2,
  4.3, 4.5, 4.4, 4.1, 4.2, 4.5, 4.6, 4.3, 4.3, 4.6, 4.5, 4.2, 4.1, 4.4, 4.4, 4.1, 4.2, 4.5, 4.5, 4.2,
  4.3, 4.6, 4.6, 4.3, 4.4, 4.1, 4.2, 4.5, 4.5, 4.2, 4.3, 4.6, 4.1, 4.4, 4.6, 4.3, 4.4, 4.1, 4.1, 4.4,
  4.5, 4.2, 4.2, 4.5, 4.4, 4.1, 4.3, 4.6, 4.6, 4.3, 4.2, 4.5, 4.4, 4.1, 4.3, 4.6, 4.5, 4.2, 4.1, 4.4,
  4.4, 4.1, 4.2, 4.5, 4.5, 4.2, 4.3, 4.6, 4.6, 4.3, 4.4, 4.1, 4.2, 4.5, 4.5, 4.2, 4.3, 4.6, 4.1, 4.4,
  4.4, 4.1, 4.6, 4.3, 4.5, 4.2, 4.2, 4.5, 4.3, 4.6, 4.5, 4.2, 4.4, 4.1, 4.3, 4.6, 4.2, 4.5, 4.4, 4.1,
  4.3
];
const run20 = [
  7.6, 7.2, 6.8, 6.0, 5.2, 4.8, 4.6, 4.4, 4.4, 4.7, 4.7, 4.5, 4.5, 4.8, 4.8, 4.5, 4.4, 4.7, 4.6, 4.9,
  4.5, 4.8, 4.9, 4.6, 4.7, 5.0, 5.0, 4.7, 4.8, 4.5, 4.6, 4.9, 4.9, 4.6, 4.7, 4.4, 4.5, 4.8, 4.8, 4.5,
  4.6, 4.9, 4.9, 4.6, 4.7, 4.4, 4.5, 4.8, 4.8, 4.5, 4.6, 4.9, 5.0, 4.7, 4.7, 4.4, 4.5, 4.8, 4.9, 4.6,
  4.6, 4.9, 4.8, 4.5, 4.4, 4.7, 4.7, 5.0, 5.0, 4.7, 4.6, 4.9, 4.8, 4.5, 4.5, 4.8, 4.9, 4.6, 4.7, 5.0,
  5.0, 4.7, 4.6, 4.9, 4.9, 4.6, 4.5, 4.8, 4.8, 5.1, 5.1, 4.8, 4.6, 4.9, 4.9, 4.6, 4.7, 5.0, 5.0, 4.7,
  4.5, 4.8, 4.8, 5.1, 4.6, 4.9, 5.1, 4.8, 4.7, 5.0, 4.9, 4.6, 4.5, 4.8, 4.8, 4.5, 4.6, 4.9, 5.0, 4.7,
  4.7, 4.4, 4.5, 4.8, 4.9, 4.6, 4.6, 4.9, 4.8, 4.5, 4.4, 4.7, 4.7, 5.0, 5.0, 4.7, 4.6, 4.9, 4.8, 4.5,
  4.5, 4.8, 4.9, 4.6, 4.6, 4.9, 4.7, 4.4, 4.4, 4.7, 4.8, 4.5, 4.6, 4.9, 5.0, 4.7, 4.5, 4.8, 4.7, 4.4,
  4.9, 4.6, 4.5, 4.8, 4.7, 4.4, 4.4, 4.7, 4.8, 4.5, 4.6, 4.9, 4.9, 4.6, 4.5, 4.8, 4.7, 4.4, 4.3, 4.6,
  4.6, 4.3, 4.8, 4.5, 4.4, 4.7, 4.7, 4.4, 4.5, 4.8, 4.9, 4.6, 4.6, 4.3, 4.4, 4.7, 4.7, 4.4, 4.5, 4.8,
  4.6
];

const leftLabels = ["Run 1", "Run 2", "Run 3", "Run 4", "Run 5", "Run 6", "Run 7", "Run 8", "Run 9", "Run 10"];
const rightLabels = ["Run 11", "Run 12", "Run 13", "Run 14", "Run 15", "Run 16", "Run 17", "Run 18", "Run 19", "Run 20"];
const leftRuns = [run1, run2, run3, run4, run5, run6, run7, run8, run9, run10];
const rightRuns = [run11, run12, run13, run14, run15, run16, run17, run18, run19, run20];

// same 10 colours in both panels
const runColors = ["#000000", "#ff0000", "#0000ff", "#1e90ff", "#006400",
                   "#87ceeb", "#000080", "#b8860b", "#ff7f50", "#c04000"];

const FONT = "'Liberation Sans', Arial, sans-serif";

// gnuplot-like box: thick frame + ticks pointing inwards
const framePlugin = {
  id: "frame",
  afterDatasetsDraw(chart) {
    const { ctx, chartArea: a, scales } = chart;
    const len = 12;
    ctx.save();
    ctx.strokeStyle = "#000";
    ctx.lineWidth = 3;
    ctx.beginPath();
    scales.x.ticks.forEach(t => {
      if (t.value <= scales.x.min || t.value >= scales.x.max) return;
      const px = scales.x.getPixelForValue(t.value);
      ctx.moveTo(px, a.bottom); ctx.lineTo(px, a.bottom - len);
      ctx.moveTo(px, a.top); ctx.lineTo(px, a.top + len);
    });
    scales.y.ticks.forEach(t => {
      if (t.value <= scales.y.min || t.value >= scales.y.max) return;
      const py = scales.y.getPixelForValue(t.value);
      ctx.moveTo(a.left, py); ctx.lineTo(a.left + len, py);
      ctx.moveTo(a.right, py); ctx.lineTo(a.right - len, py);
    });
    ctx.stroke();
    ctx.lineWidth = 4;
    ctx.strokeRect(a.left, a.top, a.right - a.left, a.bottom - a.top);
    ctx.restore();
  }
};

// key in 3 columns, label on the left of its line sample
const keyPlugin = {
  id: "runKey",
  afterDraw(chart, args, opts) {
    const ctx = chart.ctx;
    ctx.save();
    ctx.font = "21px " + FONT;
    ctx.fillStyle = "#000";
    ctx.textAlign = "right";
    ctx.textBaseline = "middle";
    chart.data.datasets.forEach((ds, i) => {
      const col = Math.floor(i / 4), row = i % 4;
      const y = opts.rowY[row];
      ctx.fillText(ds.label, opts.textRight[col], y);
      ctx.strokeStyle = ds.borderColor;
      ctx.lineWidth = 2;
      ctx.beginPath();
      ctx.moveTo(opts.lineFrom[col], y);
      ctx.lineTo(opts.lineTo[col], y);
      ctx.stroke();
    });
    ctx.restore();
  }
};

// y axis title with italic d
const yTitlePlugin = {
  id: "yTitle",
  afterDraw(chart, args, opts) {
    if (!opts.show) return;
    const ctx = chart.ctx;
    const a = chart.chartArea;
    ctx.save();
    ctx.translate(opts.x, (a.top + a.bottom) / 2);
    ctx.rotate(-Math.PI / 2);
    ctx.fillStyle = "#000";
    ctx.textBaseline = "middle";
    ctx.textAlign = "left";
    const italic = "italic 26px " + FONT, normal = "26px " + FONT;
    ctx.font = italic;
    const w1 = ctx.measureText("d").width;
    ctx.font = normal;
    const w2 = ctx.measureText(" (nm)").width;
    const x0 = -(w1 + w2) / 2;
    ctx.font = italic;
    ctx.fillText("d", x0, 0);
    ctx.font = normal;
    ctx.fillText(" (nm)", x0 + w1, 0);
    ctx.restore();
  }
};

function makeChart(canvasId, labels, runs, box) {
  const datasets = runs.map((vals, i) => ({
    label: labels[i],
    data: vals.map((v, k) => ({ x: timeUs[k], y: v })),
    borderColor: runColors[i],
    backgroundColor: runColors[i],
    borderWidth: 2,
    pointRadius: 0,
    tension: 0,
    order: runs.length - i // last run ends up on top
  }));

  return new Chart(document.getElementById(canvasId), {
    type: "line",
    data: { datasets: datasets },
    plugins: [framePlugin, keyPlugin, yTitlePlugin],
    options: {
      responsive: false,
      animation: false,
      devicePixelRatio: 1,
      layout: { padding: { top: box.top, right: box.right, left: 0, bottom: 0 } },
      plugins: {
        legend: { display: false },
        tooltip: { enabled: false },
        runKey: box.key,
        yTitle: { show: box.yTitle, x: 28 }
      },
      scales: {
        x: {
          type: "linear",
          min: 0,
          max: 5,
          // tick length only reserves room for the labels; marks come from the frame plugin
          grid: { display: false, drawTicks: true, tickLength: box.xTickGap + 8 },
          border: { display: false },
          ticks: { stepSize: 1, color: "#000", font: { family: FONT, size: 25 }, padding: -8, maxRotation: 0 },
          title: {
            display: true,
            text: "MD Simulation Time (μs)",
            color: "#000",
            font: { family: FONT, size: 26 },
            padding: { top: 0, bottom: box.titlePad }
          },
          afterFit: s => { s.height = box.xAxisH; }
        },
        y: {
          min: 3,
          max: 10,
          grid: { display: false, drawTicks: false },
          border: { display: false },
          ticks: { stepSize: 1, color: "#000", font: { family: FONT, size: 25 }, padding: box.yTickPad },
          afterFit: s => { s.width = box.yAxisW; }
        }
      }
    }
  });
}

makeChart("leftChart", leftLabels, leftRuns, {
  top: 161, right: 25, xAxisH: 105, yAxisW: 105,
  xTickGap: 22, yTickPad: 12, titlePad: 4, yTitle: true,
  key: { rowY: [23, 47, 71, 95], textRight: [180, 315, 450], lineFrom: [195, 330, 463], lineTo: [235, 370, 503] }
});

makeChart("rightChart", rightLabels, rightRuns, {
  top: 163, right: 13, xAxisH: 100, yAxisW: 87,
  xTickGap: 21, yTickPad: 13, titlePad: 1, yTitle: false,
  key: { rowY: [23, 47, 71, 95], textRight: [141, 289, 438], lineFrom: [158, 305, 454], lineTo: [201, 350, 498] }
});
</script>
</body>
</html>
